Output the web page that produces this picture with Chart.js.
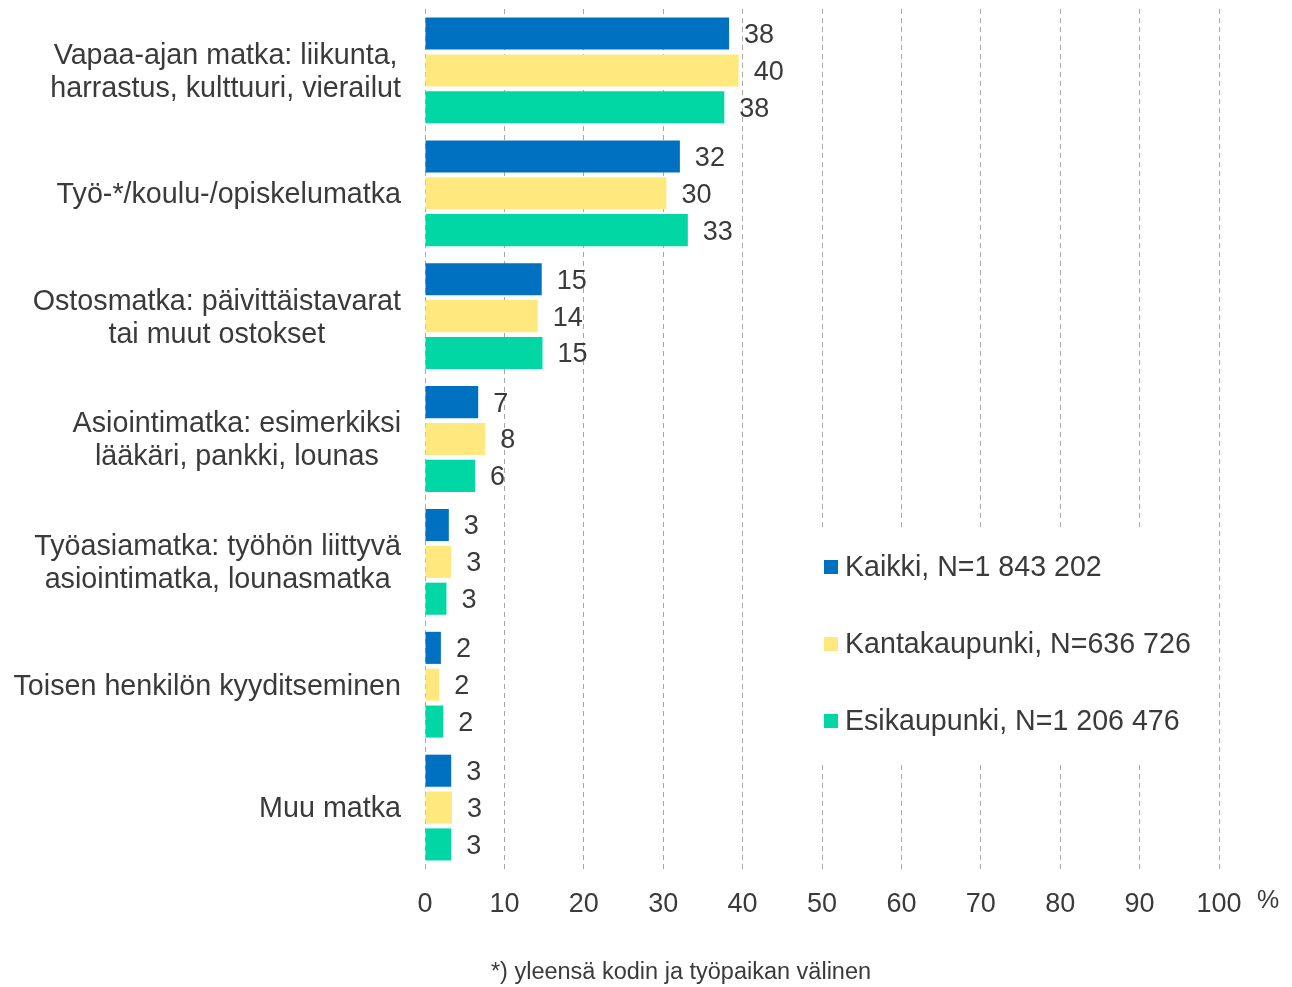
<!DOCTYPE html>
<html><head><meta charset="utf-8">
<style>html,body{margin:0;padding:0;background:#fff}#wrap{width:1292px;height:987px;position:relative}</style>
<script src="https://cdn.jsdelivr.net/npm/chart.js@4"></script>
</head>
<body><div id="wrap"><canvas id="c" width="1292" height="987"></canvas></div>
<script>
const categories = [
  ["Vapaa-ajan matka: liikunta,", "harrastus, kulttuuri, vierailut"],
  ["Työ-*/koulu-/opiskelumatka"],
  ["Ostosmatka: päivittäistavarat", "tai muut ostokset"],
  ["Asiointimatka: esimerkiksi", "lääkäri, pankki, lounas"],
  ["Työasiamatka: työhön liittyvä", "asiointimatka, lounasmatka"],
  ["Toisen henkilön kyyditseminen"],
  ["Muu matka"]
];
const seriesNames = ["Kaikki, N=1 843 202", "Kantakaupunki, N=636 726", "Esikaupunki, N=1 206 476"];
const kaikki        = [38.3, 32.1, 14.7, 6.7, 3.0, 2.0, 3.3];
const kantakaupunki = [39.5, 30.4, 14.2, 7.6, 3.3, 1.8, 3.4];
const esikaupunki   = [37.7, 33.1, 14.8, 6.3, 2.7, 2.3, 3.3];
const xTickValues = [0, 10, 20, 30, 40, 50, 60, 70, 80, 90, 100];
const axisUnit = "%";
const footnote = "*) yleensä kodin ja työpaikan välinen";

const FONT = '"Liberation Sans", Arial, sans-serif';
const TXT = '#3a3a3a';
const colors = ['#0070C0', '#FFE97F', '#00D7A5'];

const overlay = {
  id: 'overlay',
  afterDatasetsDraw(chart) {
    const ctx = chart.ctx;
    const ys = chart.scales.y;
    ctx.save();
    // data labels
    ctx.font = '27px ' + FONT;
    ctx.fillStyle = TXT;
    ctx.textAlign = 'left';
    ctx.textBaseline = 'middle';
    chart.data.datasets.forEach((ds, di) => {
      const meta = chart.getDatasetMeta(di);
      meta.data.forEach((el, i) => {
        ctx.fillText(String(Math.round(ds.data[i])), el.x + 15, el.y + 2);
      });
    });
    // category labels (centered block, right edge at fixed gap)
    ctx.font = '28.7px ' + FONT;
    ctx.textAlign = 'center';
    const lh = 33;
    categories.forEach((lines, i) => {
      const cy = ys.getPixelForValue(i);
      let w = 0;
      lines.forEach(l => { w = Math.max(w, ctx.measureText(l).width); });
      const cx = chart.chartArea.left - 24 - w / 2;
      const y0 = cy - (lines.length - 1) * lh / 2;
      lines.forEach((l, k) => ctx.fillText(l, cx, y0 + k * lh + 2));
    });
    // legend
    ctx.fillStyle = '#fff';
    ctx.fillRect(812, 527, 398, 235);
    ctx.font = '28.6px ' + FONT;
    ctx.textAlign = 'left';
    const ly = [567, 644, 721];
    seriesNames.forEach((n, i) => {
      ctx.fillStyle = colors[i];
      ctx.fillRect(824, ly[i] - 7, 14, 14);
      ctx.fillStyle = TXT;
      ctx.fillText(n, 845, ly[i] + 1);
    });
    // unit
    ctx.font = '25px ' + FONT;
    ctx.fillText(axisUnit, 1257, 901);
    // footnote
    ctx.font = '23.5px ' + FONT;
    ctx.textAlign = 'center';
    ctx.fillText(footnote, 681, 973);
    ctx.restore();
  }
};

new Chart(document.getElementById('c'), {
  type: 'bar',
  data: {
    labels: categories.map(c => c.join(' ')),
    datasets: [
      { label: seriesNames[0], data: kaikki, backgroundColor: colors[0] },
      { label: seriesNames[1], data: kantakaupunki, backgroundColor: colors[1] },
      { label: seriesNames[2], data: esikaupunki, backgroundColor: colors[2] }
    ]
  },
  options: {
    indexAxis: 'y',
    responsive: false,
    animation: false,
    devicePixelRatio: 1,
    layout: { padding: { left: 425, right: 73, top: 9, bottom: 58 } },
    datasets: { bar: { categoryPercentage: 0.9, barPercentage: 0.87 } },
    plugins: { legend: { display: false }, tooltip: { enabled: false } },
    scales: {
      x: {
        min: 0, max: 100,
        afterBuildTicks(scale) { scale.ticks = xTickValues.map(v => ({ value: v })); },
        afterFit(scale) { scale.height = 60; },
        ticks: { font: { family: FONT, size: 27 }, color: TXT, padding: 19, maxRotation: 0 },
        grid: { display: true, drawTicks: false, color: '#a8a8a8', lineWidth: 1 },
        border: { display: false, dash: [5, 4] }
      },
      y: { display: false }
    }
  },
  plugins: [overlay]
});
</script>
</body></html>
